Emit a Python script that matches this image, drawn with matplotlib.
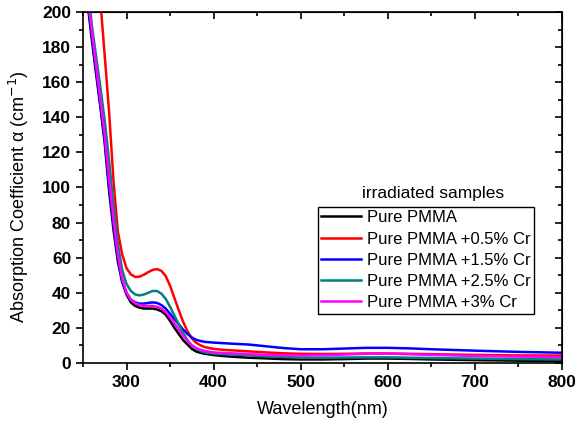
import matplotlib
matplotlib.use("Agg")
import matplotlib.pyplot as plt
from matplotlib.ticker import MultipleLocator

plt.rcParams["font.family"] = ["Liberation Sans", "DejaVu Sans"]

# wavelength grid (nm)
wavelength = [250, 255, 260, 265, 270, 275, 280, 285, 290, 295, 300, 305, 310, 315,
              320, 325, 330, 335, 340, 345, 350, 355, 360, 365, 370, 375, 380, 385,
              390, 400, 410, 420, 440, 460, 480, 500, 525, 550, 575, 600, 625, 650,
              700, 750, 800]

pure = [230, 206, 185, 165, 146, 125, 98, 76, 58, 46, 39, 34.5, 32.5, 31.5,
        31, 31, 31, 30.5, 29.5, 27.5, 24, 20, 16.5, 13, 10.5, 8, 6.5, 5.8,
        5.2, 4.5, 4, 3.6, 3, 2.6, 2.2, 2, 2, 2.2, 2.5, 2.5, 2.3, 2,
        1.6, 1.3, 1.1]

cr05 = [300, 270, 245, 225, 206, 175, 143, 104, 75, 62, 54, 50.5, 49, 49.2,
        50.3, 51.8, 53, 53.5, 52.5, 49.5, 44, 37, 30, 23.5, 18, 14, 11.5, 10,
        9, 8, 7.5, 7.2, 6.6, 6, 5.5, 5.2, 5.1, 5.2, 5.4, 5.4, 5.2, 5,
        4.6, 4.3, 4.2]

cr15 = [232, 208, 187, 167, 147, 127, 101, 79, 60, 47, 40, 36, 34.5, 33.8,
        33.8, 34.2, 34.5, 34.2, 33, 31, 28, 25, 22, 19, 16.5, 14.5, 13.2, 12.5,
        12, 11.6, 11.3, 11, 10.5, 9.5, 8.5, 7.8, 7.8, 8.2, 8.6, 8.6, 8.3, 7.8,
        7, 6.3, 5.8]

cr25 = [240, 220, 193, 175, 157, 138, 115, 90, 68, 53, 45, 41, 39, 38.5,
        39, 40, 41, 41, 39.5, 36.5, 32, 27, 22, 17, 13, 10, 8, 6.8,
        6, 5.3, 5, 4.8, 4.3, 3.8, 3.4, 3, 3, 3.1, 3.2, 3.2, 3, 2.8,
        2.5, 2.2, 2]

cr3 = [235, 210, 190, 170, 150, 130, 105, 82, 62, 48, 40, 36, 34, 33,
       32.5, 32.5, 32.5, 32, 31, 29, 26, 22.5, 19, 15.5, 12.5, 10, 8.5, 7.5,
       6.8, 6, 5.7, 5.5, 5, 4.6, 4.3, 4.2, 4.4, 4.8, 5.2, 5.3, 5, 4.6,
       4, 3.6, 3.3]

labels = ["Pure PMMA", "Pure PMMA +0.5% Cr", "Pure PMMA +1.5% Cr",
          "Pure PMMA +2.5% Cr", "Pure PMMA +3% Cr"]
colors = ["black", "red", "blue", "#008080", "magenta"]

fig = plt.figure(figsize=(5.77, 4.28), dpi=100)
ax = fig.add_axes([0.1438, 0.152, 0.8302, 0.82])

for ys, lab, c in zip([pure, cr05, cr15, cr25, cr3], labels, colors):
    ax.plot(wavelength, ys, color=c, lw=1.8, label=lab)

ax.set_xlim(250, 800)
ax.set_ylim(0, 200)
ax.xaxis.set_major_locator(MultipleLocator(100))
ax.xaxis.set_minor_locator(MultipleLocator(50))
ax.yaxis.set_major_locator(MultipleLocator(20))
ax.yaxis.set_minor_locator(MultipleLocator(10))
ax.tick_params(which="both", direction="out", top=False, right=False, width=1.2)
ax.tick_params(which="major", length=5, labelsize=12.5)
ax.tick_params(which="minor", length=3)
for lbl in ax.get_xticklabels() + ax.get_yticklabels():
    lbl.set_fontweight("bold")

# mirrored ticks on top and right, pointing inward
for side in ["top", "right"]:
    sec = ax.secondary_xaxis("top") if side == "top" else ax.secondary_yaxis("right")
    axis = sec.xaxis if side == "top" else sec.yaxis
    axis.set_major_locator(MultipleLocator(100 if side == "top" else 20))
    axis.set_minor_locator(MultipleLocator(50 if side == "top" else 10))
    sec.tick_params(which="both", direction="in", width=1.2, labelleft=False,
                    labelright=False, labeltop=False)
    sec.tick_params(which="major", length=5)
    sec.tick_params(which="minor", length=3)

for s in ax.spines.values():
    s.set_linewidth(1.2)

ax.set_xlabel("Wavelength(nm)", fontsize=13, labelpad=8)
ax.set_ylabel("Absorption Coefficient α (cm$^{-1}$)", fontsize=13)
ax.yaxis.set_label_coords(-0.108, 0.474)

leg = ax.legend(loc="upper left", bbox_to_anchor=(0.4906, 0.4444), fontsize=12,
                frameon=True, fancybox=False, edgecolor="black", framealpha=1,
                handlelength=2.4, handletextpad=0.35, labelspacing=0.375,
                borderpad=0.2, borderaxespad=0)
leg.get_frame().set_linewidth(1.0)
ax.text(0.7307, 0.4815, "irradiated samples", transform=ax.transAxes,
        ha="center", va="center", fontsize=12.5)

fig.savefig("out.png", dpi=100)
